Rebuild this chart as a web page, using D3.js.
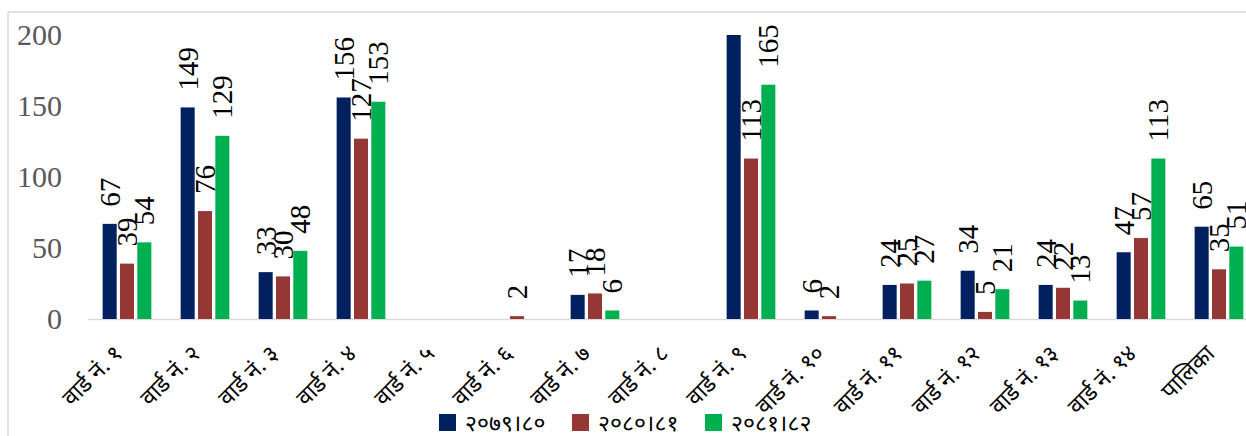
<!DOCTYPE html>
<html>
<head>
<meta charset="utf-8">
<script src="https://cdn.jsdelivr.net/npm/d3@7"></script>
<style>
  body { margin: 0; background: #fff; }
  svg { display: block; }
</style>
</head>
<body>
<div id="chart"></div>
<script>
// categories and series
const wards = ["वार्ड नं. १", "वार्ड नं. २", "वार्ड नं. ३", "वार्ड नं. ४", "वार्ड नं. ५",
  "वार्ड नं. ६", "वार्ड नं. ७", "वार्ड नं. ८", "वार्ड नं. ९", "वार्ड नं. १०",
  "वार्ड नं. ११", "वार्ड नं. १२", "वार्ड नं. १३", "वार्ड नं. १४", "पालिका"];
const seriesNames = ["२०७९।८०", "२०८०।८१", "२०८१।८२"];
const colors = ["#002060", "#953735", "#00b050"];

// null = no bar / no label
const y7980 = [67, 149, 33, 156, null, null, 17, null, 205, 6, 24, 34, 24, 47, 65];
const y8081 = [39, 76, 30, 127, null, 2, 18, null, 113, 2, 25, 5, 22, 57, 35];
const y8182 = [54, 129, 48, 153, null, null, 6, null, 165, null, 27, 21, 13, 113, 51];
const yTicks = [0, 50, 100, 150, 200];

const W = 1246, H = 436;
const values = [y7980, y8081, y8182];

const svg = d3.select("#chart").append("svg")
  .attr("width", W)
  .attr("height", H);

// chart frame (only top and left edges are visible in the shot)
svg.append("line")
  .attr("x1", 8).attr("x2", W).attr("y1", 12).attr("y2", 12)
  .attr("stroke", "#d9d9d9").attr("stroke-width", 1.5);
svg.append("line")
  .attr("x1", 8).attr("x2", 8).attr("y1", 12).attr("y2", H)
  .attr("stroke", "#d9d9d9").attr("stroke-width", 1.5);

const x0 = d3.scaleBand()
  .domain(wards)
  .range([88, 88 + 78 * wards.length]);

const x1 = d3.scaleBand()
  .domain(seriesNames)
  .range([-26, 26])
  .paddingInner(0.19)
  .paddingOuter(0.095);

const yScale = d3.scaleLinear()
  .domain([0, 200])
  .range([319, 35]);

svg.append("clipPath").attr("id", "plot")
  .append("rect")
  .attr("x", 0).attr("y", yScale(200))
  .attr("width", W).attr("height", yScale(0) - yScale(200));

// y axis labels (no line, no gridlines)
const yAxis = d3.axisLeft(yScale).tickValues(yTicks).tickSize(0).tickPadding(0);
const yg = svg.append("g")
  .attr("transform", "translate(62,0)")
  .call(yAxis);
yg.select(".domain").remove();
yg.selectAll("text")
  .attr("font-family", "'Liberation Serif', 'Times New Roman', serif")
  .attr("font-size", 30)
  .attr("fill", "#595959");

// baseline
svg.append("line")
  .attr("x1", 88).attr("x2", W)
  .attr("y1", yScale(0) + 0.5).attr("y2", yScale(0) + 0.5)
  .attr("stroke", "#d9d9d9").attr("stroke-width", 1.5);

// bars
const groups = svg.append("g").attr("clip-path", "url(#plot)")
  .selectAll("g")
  .data(wards)
  .join("g")
  .attr("transform", d => `translate(${x0(d) + x0.bandwidth() / 2},0)`);

groups.selectAll("rect")
  .data((d, i) => seriesNames.map((s, j) => ({ s, j, v: values[j][i] })).filter(e => e.v !== null))
  .join("rect")
  .attr("x", e => x1(e.s))
  .attr("width", x1.bandwidth())
  .attr("y", e => yScale(e.v))
  .attr("height", e => yScale(0) - yScale(e.v))
  .attr("fill", e => colors[e.j]);

// rotated value labels above bars
const labelG = svg.append("g");
wards.forEach((w, i) => {
  seriesNames.forEach((s, j) => {
    const v = values[j][i];
    if (v === null || v > 200) return;
    const cx = x0(w) + x0.bandwidth() / 2 + x1(s) + x1.bandwidth() / 2;
    const ty = yScale(v) - 17;
    labelG.append("text")
      .attr("transform", `translate(${cx + 10},${ty}) rotate(-90)`)
      .attr("font-family", "'Liberation Serif', 'Times New Roman', serif")
      .attr("font-size", 29)
      .attr("fill", "#000")
      .text(v);
  });
});

// x axis labels rotated -45
const devFont = "'Noto Sans Devanagari', 'Mangal', 'Lohit Devanagari', 'Noto Sans', sans-serif";
svg.append("g")
  .selectAll("text")
  .data(wards)
  .join("text")
  .attr("transform", d => `translate(${x0(d) + x0.bandwidth() / 2 - 3},${355}) rotate(-45)`)
  .attr("text-anchor", "end")
  .attr("font-family", devFont)
  .attr("font-size", 23)
  .attr("fill", "#000")
  .text(d => d);

// legend
const legendX = [439, 572, 705];
const legend = svg.append("g");
seriesNames.forEach((s, j) => {
  legend.append("rect")
    .attr("x", legendX[j]).attr("y", 414)
    .attr("width", 17).attr("height", 17)
    .attr("fill", colors[j]);
  legend.append("text")
    .attr("x", legendX[j] + 26).attr("y", 423)
    .attr("dy", "0.35em")
    .attr("font-family", devFont)
    .attr("font-size", 23)
    .attr("fill", "#000")
    .text(s);
});
</script>
</body>
</html>
